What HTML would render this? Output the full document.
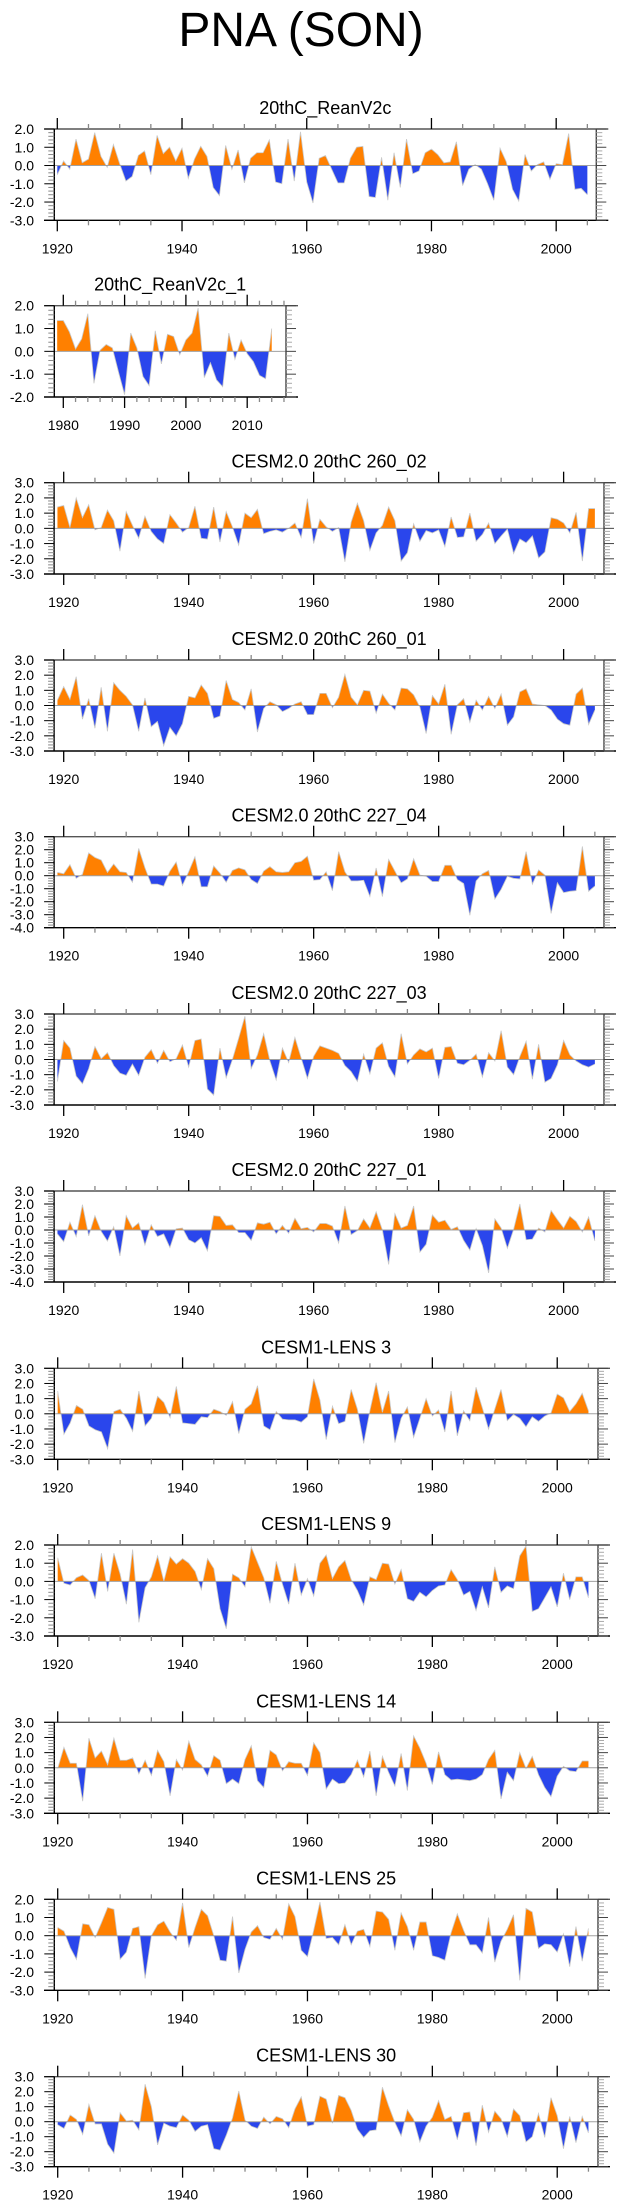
<!DOCTYPE html>
<html><head><meta charset="utf-8"><style>
html,body{margin:0;padding:0;background:#fff;}
svg{display:block;font-family:"Liberation Sans",sans-serif;}
</style></head><body>
<svg id="chart" width="623" height="2209" viewBox="0 0 623 2209" xmlns="http://www.w3.org/2000/svg">
<rect width="623" height="2209" fill="#fff"/>
<text x="301" y="46" font-size="48" text-anchor="middle" fill="#000">PNA (SON)</text>
</svg>
<script>
// ---------- data ----------
const titles = ["20thC_ReanV2c","20thC_ReanV2c_1","CESM2.0 20thC 260_02","CESM2.0 20thC 260_01","CESM2.0 20thC 227_04","CESM2.0 20thC 227_03","CESM2.0 20thC 227_01","CESM1-LENS 3","CESM1-LENS 9","CESM1-LENS 14","CESM1-LENS 25","CESM1-LENS 30"];
const startYears = [1920,1979,1919,1919,1919,1919,1919,1920,1920,1920,1920,1920];
const yMaxs = [2,2,3,3,3,3,3,3,2,3,2,3];
const yMins = [-3,-2,-3,-3,-4,-3,-4,-3,-3,-3,-3,-3];
const decadeLabels = [1920,1940,1960,1980,2000];
const shortLabels = [1980,1990,2000,2010];

const reanV2c = [-0.5,0.25,-0.2,1.45,0.15,0.35,1.8,0.5,-0.1,1.15,0.1,-0.85,-0.6,0.55,0.8,-0.5,1.65,0.65,1.0,0.25,0.95,-0.7,0.35,1.05,0.5,-1.2,-1.65,1.1,-0.2,0.85,-0.95,0.4,0.7,0.7,1.4,-0.9,-1.0,1.45,-0.85,1.85,-0.9,-2.05,0.4,0.55,-0.2,-0.95,-0.95,0.4,1.0,1.05,-1.7,-1.75,0.45,-1.9,0.7,-1.2,1.45,-0.45,-0.3,0.7,0.9,0.6,0.15,0.2,1.3,-1.1,-0.2,0.05,-0.2,-1.0,-1.9,0.95,0.2,-1.3,-1.95,0.6,-0.3,0.05,0.2,-0.75,0.1,0.05,1.75,-1.3,-1.25,-1.6];
const reanV2c1 = [1.35,1.35,0.85,0.1,0.55,1.65,-1.4,0.05,0.3,0.15,-0.9,-1.9,0.8,0.15,-1.1,-1.5,0.9,-0.55,0.75,0.65,-0.15,0.5,0.8,1.9,-1.15,-0.5,-1.25,-1.55,0.8,-0.35,0.5,-0.1,-0.45,-1.05,-1.2,1.0];
const cesm2_260_02 = [1.4,1.5,0.05,2.0,0.7,1.55,-0.1,0.05,1.2,0.5,-1.5,1.1,0.2,-0.65,0.8,-0.2,-0.7,-1.0,0.9,0.35,-0.25,0.05,1.45,-0.65,-0.7,1.4,-0.9,1.1,0.1,-1.1,1.0,0.7,1.25,-0.35,-0.2,-0.1,-0.25,0.0,0.35,-0.6,1.95,-1.0,0.6,0.1,-0.2,0.05,-2.2,0.4,1.65,0.5,-1.45,-0.3,0.2,1.4,0.5,-2.15,-1.6,0.3,-0.85,-0.15,-0.3,-0.1,-1.2,0.75,-0.6,-0.55,1.0,-0.85,-0.4,0.35,-1.0,-0.5,-0.05,-1.65,-0.7,-0.95,-0.5,-1.95,-1.55,0.7,0.6,0.35,-0.3,1.05,-2.15,1.3,1.3];
const cesm2_260_01 = [0.35,1.25,0.4,1.9,-0.9,0.45,-1.5,1.2,-1.7,1.5,1.0,0.6,0.05,-1.7,0.5,-1.4,-1.05,-2.65,-1.45,-2.0,-1.2,0.6,0.5,1.35,0.8,-0.85,-0.7,1.65,0.4,0.2,-0.3,1.1,-1.75,-0.2,0.25,0.05,-0.4,-0.2,0.1,0.25,-0.6,-0.6,0.8,0.8,-0.15,0.55,2.05,0.55,0.05,1.0,0.95,-0.5,0.75,0.15,-0.3,1.15,1.1,0.7,-0.1,-1.85,0.65,0.1,1.4,-1.9,0.05,0.45,-1.1,0.35,-0.3,0.6,-0.2,0.75,-1.3,-0.75,0.9,1.1,0.1,0.05,0.0,-0.3,-0.9,-1.2,-1.3,0.75,1.15,-1.25,-0.3];
const cesm2_227_04 = [0.25,0.15,0.85,-0.2,0.1,1.75,1.4,1.2,0.25,0.9,0.3,0.25,-0.5,2.1,0.6,-0.65,-0.65,-0.8,0.35,1.05,-0.75,0.3,1.45,-0.85,-0.85,0.75,0.2,-0.5,0.4,0.6,0.45,-0.3,-0.6,0.35,0.7,0.3,0.25,0.3,1.0,1.1,1.5,-0.35,-0.3,0.3,-1.15,1.85,0.3,-0.4,-0.4,-0.35,-1.6,0.6,-1.6,1.25,0.35,-0.55,-0.25,1.3,0.05,-0.05,-0.45,-0.45,0.8,0.8,-0.3,-0.6,-3.05,-0.4,0.15,0.4,-1.8,-1.05,-0.05,-0.2,-0.25,1.85,-0.65,0.45,0.05,-2.9,-0.55,-1.3,-1.2,-1.15,2.25,-1.2,-0.8];
const cesm2_227_03 = [-1.45,1.25,0.75,-1.1,-1.6,-0.6,0.85,0.05,0.45,-0.4,-0.9,-1.05,-0.3,-1.05,0.15,0.65,-0.25,0.6,-0.15,0.05,0.95,-0.5,1.25,1.35,-1.95,-2.35,0.75,-1.2,0.0,1.4,2.85,-0.6,0.3,1.7,-0.1,-1.35,0.75,-0.2,1.45,0.1,-1.25,0.2,0.9,0.75,0.6,0.4,-0.4,-0.8,-1.45,0.35,-0.95,0.75,1.1,-0.45,-1.15,1.7,-0.3,0.3,0.7,0.5,0.75,-1.25,0.8,0.85,-0.25,-0.35,-0.05,0.35,-1.15,0.45,-0.1,1.9,-0.5,-1.0,0.2,1.2,-1.3,1.0,-1.5,-1.25,-0.35,1.25,0.3,-0.1,-0.35,-0.5,-0.3];
const cesm2_227_01 = [-0.3,-0.9,0.6,-0.5,1.95,-0.45,1.1,-0.1,-0.85,0.25,-2.0,1.1,0.15,0.55,-1.15,0.4,-0.5,-0.3,-1.35,0.1,0.15,-0.75,-1.0,-0.6,-1.6,1.1,1.05,0.35,0.4,-0.2,-0.2,-0.8,0.55,0.45,0.6,-0.3,0.35,-0.25,0.9,0.1,0.2,-0.15,0.5,0.5,0.3,-1.0,1.85,-0.35,-0.05,0.85,0.15,1.4,0.0,-2.65,1.25,0.15,0.35,1.85,-1.7,-1.1,1.15,0.6,0.75,0.05,0.25,-0.8,-1.55,0.1,-1.2,-3.3,0.85,0.15,-1.4,0.05,2.0,-0.75,-0.7,0.15,-0.15,1.5,0.8,0.15,1.05,0.65,-0.15,1.0,-0.85];
const lens3 = [1.5,-1.35,-0.6,0.55,0.3,-0.8,-1.05,-1.2,-2.3,0.15,0.3,-0.3,-1.15,1.5,-0.8,-0.3,1.15,0.75,-0.25,1.8,-0.6,-0.65,-0.7,-0.2,-0.25,0.3,0.15,-0.1,0.8,-1.3,0.3,0.65,1.85,-0.8,-1.05,0.15,-0.35,-0.4,-0.4,-0.55,-0.2,2.3,0.9,-1.7,0.5,-0.65,-0.5,1.6,0.3,-1.95,0.2,2.05,0.1,1.5,-1.9,-0.3,0.45,-1.55,-0.3,1.0,-0.15,0.25,-1.2,1.5,-1.45,0.2,-0.45,1.75,0.4,-1.0,0.3,1.6,-0.45,-0.05,-0.3,-0.85,-0.2,-0.5,-0.15,0.05,1.3,1.05,0.15,0.65,1.35,0.2];
const lens9 = [1.3,-0.1,-0.2,0.2,0.35,0.05,-0.95,1.55,-0.55,1.55,0.4,-1.25,1.75,-2.25,-0.35,0.25,1.4,0.0,1.35,0.95,1.25,1.0,0.55,-0.45,1.25,0.7,-1.5,-2.6,0.4,0.2,-0.3,1.9,1.05,0.2,-1.2,1.1,-0.15,-1.25,1.0,-0.75,0.15,-0.8,1.0,1.45,0.15,0.8,1.15,0.1,-0.5,-1.3,0.25,0.1,1.0,0.95,-0.15,0.65,-0.95,-1.1,-0.6,-0.85,-0.5,-0.25,-0.2,0.65,0.1,-0.75,-0.55,-1.6,-0.3,-1.45,0.8,-0.6,-0.25,-0.4,1.4,1.95,-1.65,-1.5,-0.9,-0.3,-1.4,0.45,-1.0,0.25,0.25,-0.9];
const lens14 = [-0.05,1.35,0.3,0.3,-2.2,1.95,0.65,1.1,0.2,1.95,0.5,0.5,0.65,-0.4,0.5,-0.5,1.15,0.4,-1.85,0.55,-0.15,1.75,0.55,0.2,-0.55,0.8,0.5,-1.05,-0.75,-1.05,0.55,1.45,-0.85,-1.3,1.15,0.85,-0.2,0.4,0.3,0.3,-0.5,1.65,1.0,-1.4,-0.75,-1.05,-1.0,-0.45,0.5,-0.6,1.1,-1.85,0.75,-0.3,-1.2,0.95,-1.5,2.1,1.3,0.3,-1.1,1.05,-0.45,-0.8,-0.75,-0.8,-0.85,-0.75,-0.45,0.55,1.15,-2.05,-0.3,-0.85,1.0,-0.05,0.75,-0.45,-1.3,-1.9,-0.55,0.1,-0.2,-0.25,0.45,0.45];
const lens25 = [0.45,0.25,-0.65,-1.3,0.65,0.6,-0.1,0.7,1.55,1.45,-1.3,-0.9,0.4,0.5,-2.35,0.0,0.6,0.8,0.2,-0.25,1.8,-0.65,0.45,1.45,1.1,0.0,-1.35,-1.4,1.05,-2.05,-0.75,0.2,0.55,-0.1,-0.2,0.4,-0.2,1.75,1.05,-0.8,-1.15,0.3,1.85,-0.15,-0.1,-0.5,0.6,-0.5,0.25,0.35,-0.6,1.35,1.3,0.9,-0.8,1.25,0.5,-0.8,0.75,0.75,-1.1,-1.2,-1.35,0.15,1.2,0.3,-0.5,-0.5,-0.95,1.0,-1.45,-0.3,0.35,1.15,-2.45,1.5,1.3,-0.7,-0.45,-0.5,-0.9,0.1,-1.7,0.5,-1.4,0.4];
const lens30 = [-0.2,-0.45,0.45,0.15,-0.85,1.15,-0.15,-0.15,-1.5,-2.1,0.6,0.05,0.1,-0.55,2.5,1.0,-1.55,-0.1,-0.3,-0.4,0.45,0.1,-0.65,-0.3,-0.2,-1.8,-1.9,-0.9,0.25,2.05,0.1,-0.3,-0.45,0.3,-0.15,0.35,0.2,-0.4,0.85,1.65,-0.3,-0.2,1.7,1.5,-0.1,1.75,1.6,0.75,-0.5,-1.05,-0.6,-0.55,2.3,1.05,-0.05,-0.95,0.8,0.15,-1.35,-0.3,0.3,1.4,0.15,0.35,-1.2,0.6,0.65,-1.6,1.1,-0.7,0.7,0.2,-1.0,0.85,0.4,-1.35,-1.0,0.55,-1.05,1.6,0.4,-1.8,0.35,-1.4,0.35,-0.75];

const series = [reanV2c,reanV2c1,cesm2_260_02,cesm2_260_01,cesm2_227_04,cesm2_227_03,cesm2_227_01,lens3,lens9,lens14,lens25,lens30];

// ---------- layout (pixels, not data) ----------
const tops    = [129,305.7,482.7,660,836.7,1014,1191,1368.3,1545,1722.3,1899.3,2076.7];
const bottoms = [220.3,397,574,751,927.7,1105,1282,1459.3,1636,1813.3,1990.3,2166.7];
const LAY_REAN = {xl:54.3, xr:596.3, refYear:1920, refX:57.3, ppy:6.236, minor:5, major:20};
const LAY_SHORT= {xl:54.3, xr:286, refYear:1980, refX:63.3, ppy:6.13, minor:2, major:10};
const LAY_CESM2= {xl:54.1, xr:604, refYear:1920, refX:63.7, ppy:6.249, minor:5, major:20};
const LAY_LENS = {xl:54.3, xr:598, refYear:1920, refX:57.7, ppy:6.244, minor:5, major:20};
const layouts = [LAY_REAN,LAY_SHORT,LAY_CESM2,LAY_CESM2,LAY_CESM2,LAY_CESM2,LAY_CESM2,LAY_LENS,LAY_LENS,LAY_LENS,LAY_LENS,LAY_LENS];

const NS = "http://www.w3.org/2000/svg";
const svg = document.getElementById('chart');
function mk(tag, attrs, parent){
  const e = document.createElementNS(NS, tag);
  for (const k in attrs) e.setAttribute(k, attrs[k]);
  (parent||svg).appendChild(e);
  return e;
}

series.forEach((vals, p) => {
  const L = layouts[p];
  const top = tops[p], bot = bottoms[p];
  const ymax = yMaxs[p], ymin = yMins[p];
  const xs = yr => L.refX + (yr - L.refYear) * L.ppy;
  const ys = v => top + (ymax - v) / (ymax - ymin) * (bot - top);
  const g = mk('g', {});
  
  

  // title
  const t = mk('text', {x:(L.xl+L.xr)/2, y:top-15, 'font-size':18, 'text-anchor':'middle', fill:'#000'}, g);
  t.textContent = titles[p];
  
  

  // clip paths
  const y0 = ys(0);
  const defs = mk('defs', {}, g);
  const cu = mk('clipPath', {id:'cu'+p}, defs);
  mk('rect', {x:L.xl, y:top, width:L.xr-L.xl, height:y0-top}, cu);
  const cd = mk('clipPath', {id:'cd'+p}, defs);
  mk('rect', {x:L.xl, y:y0, width:L.xr-L.xl, height:bot-y0}, cd);

  const y0yr = startYears[p];
  let d = 'M' + xs(y0yr).toFixed(2) + ',' + y0.toFixed(2);
  let line = '';
  vals.forEach((v, i) => {
    const px = xs(y0yr + i).toFixed(2), py = ys(v).toFixed(2);
    d += ' L' + px + ',' + py;
    line += (i ? ' L' : 'M') + px + ',' + py;
  });
  d += ' L' + xs(y0yr + vals.length - 1).toFixed(2) + ',' + y0.toFixed(2) + ' Z';
  const pos = mk('path', {d:d, fill:'#ff8000', 'clip-path':'url(#cu'+p+')'}, g);
  
  
  const neg = mk('path', {d:d, fill:'#2a46ec', 'clip-path':'url(#cd'+p+')'}, g);
  
  
  const ln = mk('path', {d:line, fill:'none', stroke:'#c8c8c8', 'stroke-width':0.8}, g);
  
  
  const zl = mk('line', {x1:L.xl, x2:L.xr, y1:y0, y2:y0, stroke:'#a0a0a0', 'stroke-width':1}, g);
  
  

  // frame
  mk('line', {x1:44, x2:L.xr+12, y1:top, y2:top, stroke:'#555', 'stroke-width':1.4}, g);
  mk('line', {x1:44, x2:L.xr+12, y1:bot, y2:bot, stroke:'#000', 'stroke-width':1.4}, g);
  mk('line', {x1:L.xl, x2:L.xl, y1:top, y2:bot, stroke:'#000', 'stroke-width':1.4}, g);
  mk('line', {x1:L.xr, x2:L.xr, y1:top, y2:bot, stroke:'#444', 'stroke-width':1.4}, g);

  // y ticks
  const steps = Math.round((ymax - ymin) / 0.2);
  for (let k = 0; k <= steps; k++) {
    const v = ymax - k * 0.2;
    const yy = ys(v);
    const major = (k % 5 === 0);
    const len = major ? 10 : 6;
    mk('line', {x1:L.xl-len, x2:L.xl, y1:yy, y2:yy, stroke: major ? '#000' : '#888', 'stroke-width':1}, g);
    mk('line', {x1:L.xr, x2:L.xr+len, y1:yy, y2:yy, stroke: major ? '#444' : '#aaa', 'stroke-width':1}, g);
    if (major) {
      const lb = mk('text', {x:34, y:yy+5, 'font-size':14, 'text-anchor':'end', fill:'#000'}, g);
      lb.textContent = v.toFixed(1);
      
      
    }
  }

  // x ticks
  const labs = (p === 1) ? shortLabels : decadeLabels;
  for (let yr = 1900; yr <= 2020; yr += L.minor) {
    const xx = xs(yr);
    if (xx < L.xl - 0.5 || xx > L.xr + 0.5) continue;
    const major = (yr % L.major === 0);
    const len = major ? 11 : 5;
    mk('line', {x1:xx, x2:xx, y1:top-len, y2:top, stroke: major ? '#000' : '#888', 'stroke-width':1.3}, g);
    mk('line', {x1:xx, x2:xx, y1:bot, y2:bot+len, stroke: major ? '#000' : '#888', 'stroke-width':1.3}, g);
  }
  labs.forEach(yr => {
    const lb = mk('text', {x:xs(yr), y:bot+33, 'font-size':14, 'text-anchor':'middle', fill:'#000'}, g);
    lb.textContent = yr;
    
    
  });
});
</script>
</body></html>
